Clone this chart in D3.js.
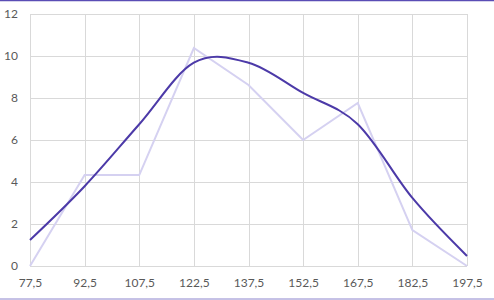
<!DOCTYPE html>
<html>
<head>
<meta charset="utf-8">
<script src="https://cdn.jsdelivr.net/npm/d3@7"></script>
<style>
  body { margin: 0; background: #fff; }
  svg { display: block; }
  .tick text { font-family: Lato, "Open Sans", sans-serif; font-size: 12px; fill: #595959; }
</style>
</head>
<body>
<svg id="chart" width="494" height="300"></svg>
<script>
// class midpoints
const midpoints = [77.5, 92.5, 107.5, 122.5, 137.5, 152.5, 167.5, 182.5, 197.5];
// frequency polygon (light line)
const frequency = [0, 4.33, 4.33, 10.38, 8.62, 6.0, 7.76, 1.71, 0];
// smoothed curve (dark line)
const smoothed = [1.24, 3.8, 6.75, 9.68, 9.68, 8.24, 6.75, 3.24, 0.48];
const yTicks = [0, 2, 4, 6, 8, 10, 12];

const svg = d3.select('#chart');
const margin = { top: 14, right: 27, bottom: 34, left: 30 };
const width = 494 - margin.left - margin.right;
const height = 300 - margin.top - margin.bottom;

// purple frame lines at top and bottom
svg.append('line').attr('x1', 0).attr('x2', 494).attr('y1', 0.5).attr('y2', 0.5)
  .attr('stroke', '#5a4db5').attr('stroke-width', 1.5);
svg.append('line').attr('x1', 0).attr('x2', 494).attr('y1', 299).attr('y2', 299)
  .attr('stroke', '#8c84cc').attr('stroke-width', 1);

const g = svg.append('g').attr('transform', 'translate(' + margin.left + ',' + margin.top + ')');

const x = d3.scaleLinear().domain([77.5, 197.5]).range([0, width]);
const y = d3.scaleLinear().domain([0, 12]).range([height, 0]);

// grid
g.append('g').selectAll('line').data(yTicks).enter().append('line')
  .attr('x1', 0).attr('x2', width)
  .attr('y1', d => Math.round(y(d)) + 0.5).attr('y2', d => Math.round(y(d)) + 0.5)
  .attr('stroke', '#d9d9d9');
g.append('g').selectAll('line').data(midpoints).enter().append('line')
  .attr('y1', 0).attr('y2', height)
  .attr('x1', d => Math.round(x(d)) + 0.5).attr('x2', d => Math.round(x(d)) + 0.5)
  .attr('stroke', '#d9d9d9');

const fmt = d => String(d).replace('.', ',');

g.append('g').attr('transform', 'translate(0,' + height + ')')
  .call(d3.axisBottom(x).tickValues(midpoints).tickFormat(fmt).tickSize(0).tickPadding(12))
  .call(a => a.select('.domain').remove());

g.append('g')
  .call(d3.axisLeft(y).tickValues(yTicks).tickSize(0).tickPadding(12))
  .call(a => a.select('.domain').remove());

const light = d3.line().x((d, i) => x(midpoints[i])).y(d => y(d));
g.append('path').datum(frequency)
  .attr('d', light)
  .attr('fill', 'none')
  .attr('stroke', '#d5d1f1')
  .attr('stroke-width', 2);

const dark = d3.line().x((d, i) => x(midpoints[i])).y(d => y(d)).curve(d3.curveCardinal.tension(0));
g.append('path').datum(smoothed)
  .attr('d', dark)
  .attr('fill', 'none')
  .attr('stroke', '#4c3aa8')
  .attr('stroke-width', 2);
</script>
</body>
</html>
